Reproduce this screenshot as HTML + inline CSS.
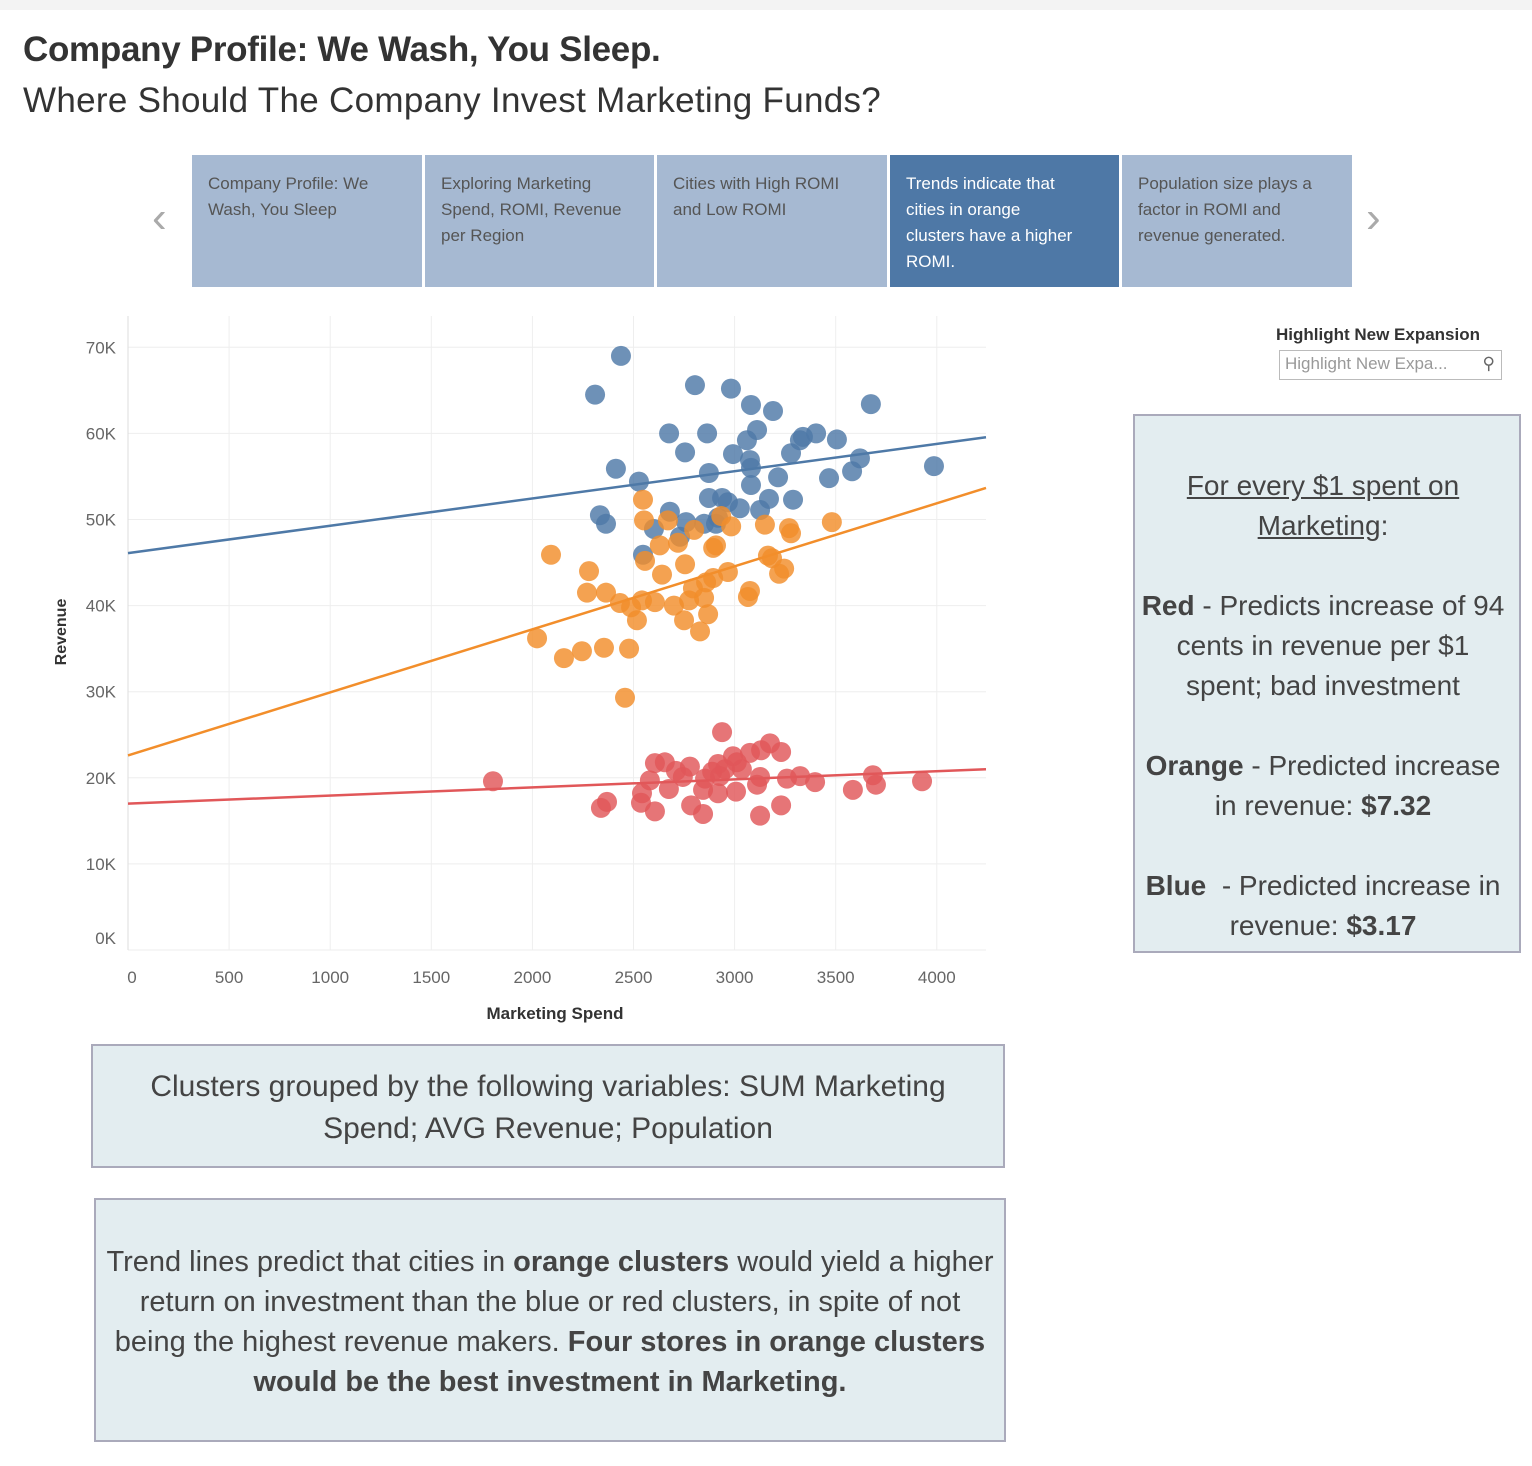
<!DOCTYPE html>
<html><head><meta charset="utf-8">
<style>
body{margin:0;width:1532px;height:1466px;background:#fff;font-family:"Liberation Sans",sans-serif;position:relative;overflow:hidden;color:#333}
.topbar{position:absolute;left:0;top:0;width:1532px;height:10px;background:#f3f3f3}
.abs{position:absolute}
.nav{position:absolute;top:155px;height:132px;background:#a6b9d2;color:#555;font-size:17px;line-height:26px;padding:16px 24px 0 16px;box-sizing:border-box}
.nav.active{background:#4e78a6;color:#fff}
.box{position:absolute;background:#e3edf0;border:2px solid #aab;box-sizing:border-box;text-align:center;color:#444}
</style></head><body>
<div class="topbar"></div>
<div class="abs" style="left:23px;top:30px;font-size:35px;font-weight:bold;color:#333;letter-spacing:-0.3px">Company Profile: We Wash, You Sleep.</div>
<div class="abs" style="left:23px;top:81px;font-size:35px;color:#333;letter-spacing:0.3px">Where Should The Company Invest Marketing Funds?</div>

<div class="abs" style="left:152px;top:196px;font-size:44px;color:#aaa;line-height:44px">&#8249;</div>
<div class="abs" style="left:1366px;top:196px;font-size:44px;color:#aaa;line-height:44px">&#8250;</div>
<div class="nav" style="left:192px;width:230px">Company Profile: We Wash, You Sleep</div>
<div class="nav" style="left:425px;width:229px">Exploring Marketing Spend, ROMI, Revenue per Region</div>
<div class="nav" style="left:657px;width:230px">Cities with High ROMI and Low ROMI</div>
<div class="nav active" style="left:890px;width:229px;padding-right:42px">Trends indicate that cities in orange clusters have a higher ROMI.</div>
<div class="nav" style="left:1122px;width:230px">Population size plays a factor in ROMI and revenue generated.</div>

<div class="abs" style="left:1276px;top:325px;font-size:17px;font-weight:bold;color:#333">Highlight New Expansion</div>
<div class="abs" style="left:1279px;top:350px;width:223px;height:30px;border:1px solid #bbb;box-sizing:border-box;font-size:17px;color:#999;padding:3px 5px">Highlight New Expa...<span style="position:absolute;right:6px;top:3px;color:#666">&#9906;</span></div>

<div class="box" style="left:1133px;top:414px;width:388px;height:539px;font-size:28px;line-height:40px;padding:50px 12px 0 4px">
<u>For every $1 spent on </u><br><u>Marketing</u>:<br><br>
<b>Red</b> - Predicts increase of 94 cents in revenue per $1 spent; bad investment<br><br>
<b>Orange</b> - Predicted increase in revenue: <b>$7.32</b><br><br>
<b>Blue</b> &nbsp;- Predicted increase in revenue: <b>$3.17</b></div>

<div class="box" style="left:91px;top:1044px;width:914px;height:124px;font-size:30px;line-height:42px;padding:20px 40px 0 40px">Clusters grouped by the following variables: SUM Marketing Spend; AVG Revenue; Population</div>
<div class="box" style="left:94px;top:1198px;width:912px;height:244px;font-size:29px;line-height:40px;padding:42px 10px 0 10px">Trend lines predict that cities in <b>orange clusters</b> would yield a higher return on investment than the blue or red clusters, in spite of not being the highest revenue makers. <b>Four stores in orange clusters would be the best investment in Marketing.</b></div>

<svg id="chart" class="abs" style="left:0;top:0" width="1532" height="1040"></svg>
<script>
const xTicks=[0,500,1000,1500,2000,2500,3000,3500,4000];
const yTicks=[0,10000,20000,30000,40000,50000,60000,70000];
const blueX=[2438,2310,2804,2982,3081,3190,3674,2676,2864,3111,3061,3323,3338,3403,3506,2755,2992,3076,3081,3279,3620,3581,3986,2413,2873,3215,3467,2527,3081,2873,2938,2967,3170,3289,3026,3126,2680,2334,2364,2601,2760,2849,2918,2908,2730,2547];
const blueY=[69000,64500,65600,65200,63300,62600,63400,60000,60000,60400,59200,59200,59600,60000,59300,57800,57600,56900,56000,57700,57100,55600,56200,55900,55400,54900,54800,54400,54000,52500,52500,52000,52400,52300,51300,51100,50900,50500,49500,48900,49700,49500,50200,49500,48000,45900];
const orangeX=[2547,2552,2670,2800,2934,2983,3150,3269,3279,3481,2092,2280,2630,2720,2908,2894,2557,2755,3165,3185,3245,3220,2641,2967,2894,2859,2270,2364,2794,2849,3076,3066,2775,2433,2488,2542,2606,2700,2517,2750,2869,2829,2023,2156,2245,2354,2478,2458];
const orangeY=[52300,49900,49900,48800,50400,49200,49400,49000,48400,49700,45900,44000,47000,47300,47000,46700,45200,44800,45800,45500,44300,43700,43600,43900,43200,42700,41500,41500,42000,40900,41700,41000,40600,40300,39800,40600,40400,40000,38300,38300,39000,37000,36200,33900,34700,35100,35000,29300];
const redX=[2938,3175,3131,3230,3076,2992,2606,2655,2779,2918,3011,2710,2889,2953,3036,1805,2581,2744,2854,2928,3126,3259,3324,3398,3684,3699,3927,3585,2542,2675,2844,2918,3007,3111,2369,2339,2537,2606,2785,2844,3126,3230];
const redY=[25300,24000,23200,23000,22900,22500,21700,21800,21300,21600,21800,20800,20700,21000,21000,19600,19700,20100,19900,20200,20100,19900,20200,19500,20300,19200,19600,18600,18200,18700,18600,18200,18400,19200,17200,16500,17100,16100,16800,15800,15600,16800];
const trendIntercepts=[46100,22600,17000];
const trendSlopes=[3.17,7.32,0.94];
const seriesColors=["#4e79a7","#f28e2b","#e15759"];
const seriesNames=["blue","orange","red"];

const svg=document.getElementById('chart');
const NS='http://www.w3.org/2000/svg';
const X0=128,X1=986,Y0=950,YT=316;
const xMax=(X1-X0)/0.2022;
function sx(v){return X0+v*0.2022;}
function sy(v){return Y0-v*0.00861;}
function mk(tag,attrs){const e=document.createElementNS(NS,tag);for(const k in attrs)e.setAttribute(k,attrs[k]);svg.appendChild(e);return e;}

xTicks.forEach(t=>{
  const g=mk('line',{x1:sx(t),x2:sx(t),y1:YT,y2:Y0,stroke:'#eeeeee','stroke-width':1});
  
  
  const l=mk('text',{x:sx(t)+(t===0?4:0),y:983,'text-anchor':'middle','font-size':17,fill:'#666','font-family':'Liberation Sans, sans-serif'});
  l.textContent=t;
  
  
});
yTicks.forEach(t=>{
  const g=mk('line',{x1:X0,x2:X1,y1:sy(t),y2:sy(t),stroke:'#eeeeee','stroke-width':1});
  
  
  const l=mk('text',{x:116,y:(t===0?sy(t)-6:sy(t)+6),'text-anchor':'end','font-size':17,fill:'#666','font-family':'Liberation Sans, sans-serif'});
  l.textContent=(t/1000)+'K';
  
  
});
const ax=mk('line',{x1:X0,x2:X0,y1:YT,y2:Y0,stroke:'#ddd'});



const yt=mk('text',{x:0,y:0,transform:'translate(66,632) rotate(-90)','text-anchor':'middle','font-size':16,'font-weight':'bold',fill:'#333','font-family':'Liberation Sans, sans-serif'});
yt.textContent='Revenue';


const xt=mk('text',{x:555,y:1019,'text-anchor':'middle','font-size':17,'font-weight':'bold',fill:'#333','font-family':'Liberation Sans, sans-serif'});
xt.textContent='Marketing Spend';



const sets=[[blueX,blueY],[orangeX,orangeY],[redX,redY]];
sets.forEach((s,i)=>{
  s[0].forEach((xv,j)=>{
    const c=mk('circle',{cx:sx(xv),cy:sy(s[1][j]),r:10,fill:seriesColors[i],'fill-opacity':0.82});
    
    
  });
});
trendIntercepts.forEach((b,i)=>{
  const m=trendSlopes[i];
  const l=mk('line',{x1:sx(0),y1:sy(b),x2:sx(xMax),y2:sy(b+m*xMax),stroke:seriesColors[i],'stroke-width':2.5});
  
  
});
</script>
</body></html>
